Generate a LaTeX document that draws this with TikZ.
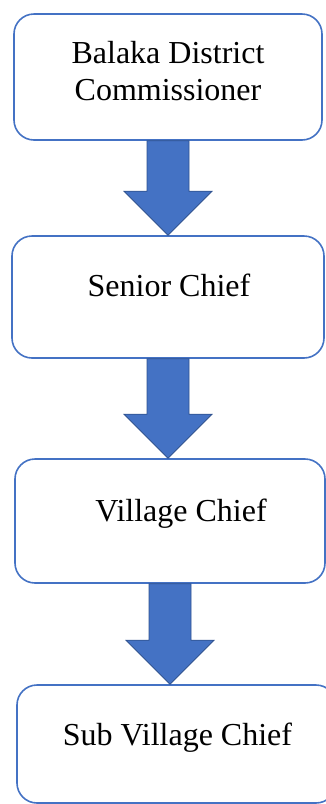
\documentclass[tikz,border=0pt]{standalone}
\usepackage{fontspec}
\setmainfont{Liberation Serif}
\usetikzlibrary{calc}
\definecolor{boxblue}{HTML}{4472C4}
\definecolor{edgeblue}{HTML}{2F528F}
\tikzset{
  stage/.style={draw=boxblue, line width=1.6pt, rounded corners=20pt, fill=white, inner sep=0pt},
  label/.style={inner sep=0pt, anchor=base, font=\fontsize{32}{37}\selectfont},
  blockarrow/.style={fill=boxblue, draw=edgeblue, line width=0.8pt, line join=miter},
}
% block arrow straight down from the bottom of one box to the top of the next
\newcommand\blkarrow[2]{%
  \coordinate (tip) at (#1.south |- #2.north);
  \draw[blockarrow]
    ($(#1.south)+(-21,0)$) -- ($(#1.south)+(21,0)$)
    -- ($(tip)+(21,-44)$) -- ($(tip)+(44,-44)$)
    -- (tip) -- ($(tip)+(-44,-44)$)
    -- ($(tip)+(-21,-44)$) -- cycle;}
\begin{document}
\begin{tikzpicture}[x=1pt, y=-1pt]
  \useasboundingbox (0,0) rectangle (326,804);
  \clip (0,0) rectangle (326,804);

  \node[stage, minimum width=308pt, minimum height=126pt] (b1) at (168,77) {};
  \node[stage, minimum width=312pt, minimum height=122pt] (b2) at (168,297) {};
  \node[stage, minimum width=310pt, minimum height=124pt] (b3) at (170,521) {};
  \node[stage, minimum width=319pt, minimum height=118pt] (b4) at (176.5,744) {};

  \node[label] (t1a) at (168,63) {Balaka District};
  \node[label] (t1b) at (168,100) {Commissioner};
  \node[label] (t2) at (169,296) {Senior Chief};
  \node[label] (t3) at (181,521) {Village Chief};
  \node[label] (t4) at (177.5,745) {Sub Village Chief};

  \blkarrow{b1}{b2}
  \blkarrow{b2}{b3}
  \blkarrow{b3}{b4}
\end{tikzpicture}
\end{document}
